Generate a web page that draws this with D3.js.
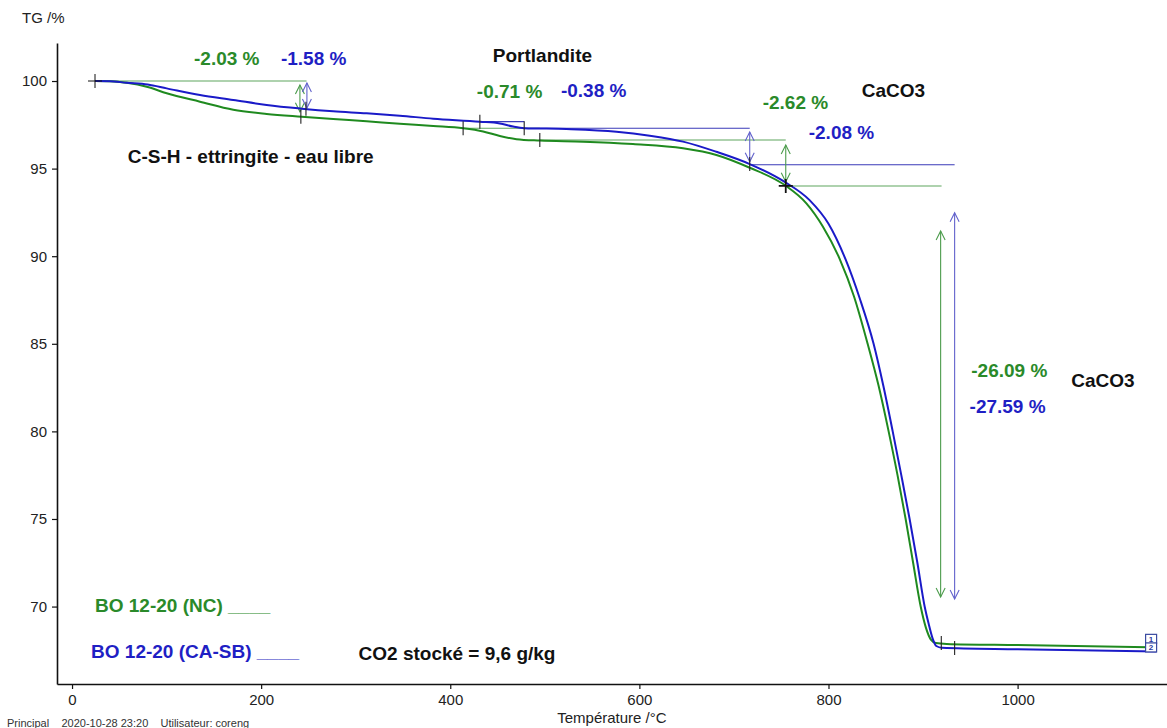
<!DOCTYPE html>
<html><head><meta charset="utf-8">
<script src="https://cdn.jsdelivr.net/npm/d3@7"></script>
<style>
body{margin:0;background:#fff;}
svg{display:block;font-family:"Liberation Sans",Arial,Helvetica,sans-serif;}
</style></head><body>
<svg id="c" width="1167" height="728"></svg>
<script>
// ---- data (temperature °C, TG %) ----
const greenTG = [[24.3,100],[40,99.99],[57.8,99.9],[80,99.66],[100.1,99.3],[135.3,98.82],[170.5,98.36],[205.8,98.12],[242.8,97.96],[276.2,97.83],[311.5,97.7],[346.7,97.56],[382,97.43],[413.6,97.3],[434.8,97.12],[452.4,96.86],[470,96.68],[494.7,96.6],[540.5,96.54],[593.3,96.4],[646.2,96.16],[681.4,95.78],[716.7,95.05],[754.8,94.02],[776.6,93.02],[794,91.7],[811.8,89.85],[827,87.7],[841.4,85.0],[853,82.6],[863.6,80.0],[873,77.5],[881.6,75.0],[889.5,72.5],[897.5,70.0],[903,68.8],[908.5,68.1],[913.5,67.92],[925,67.87],[1000,67.8],[1139.5,67.68]];
const blueTG = [[24.3,100],[40,99.99],[57.8,99.9],[80,99.8],[100.1,99.58],[135.3,99.2],[170.5,98.92],[205.8,98.63],[242.8,98.42],[276.2,98.27],[311.5,98.16],[346.7,98.02],[382,97.85],[431.3,97.68],[452.4,97.58],[466.5,97.4],[478.2,97.31],[522.9,97.26],[575.8,97.11],[611,96.88],[646.2,96.54],[681.4,95.96],[716.7,95.26],[753.7,94.24],[780,93.2],[800,91.85],[818.2,89.8],[833,87.6],[847.7,85.0],[858,82.6],[867.9,80.0],[877,77.5],[885.8,75.0],[894,72.5],[901.7,70.0],[906,69.0],[910,68.2],[914,67.75],[920,67.65],[1000,67.56],[1147,67.43]];
const xTicks = [0,200,400,600,800,1000];
const xMinor = [100,300,500,700,900,1100];
const yTicks = [70,75,80,85,90,95,100];
const yMinor = d3.range(66,103,1);
// reference lines: [series, T start, T end, TG]
const refLines = [["g",24.3,248,100],["b",431.3,478.2,97.68],["g",413.6,494.7,97.3],["b",478.2,716.7,97.3],["b",716.7,933.4,95.22],["g",494.7,754.8,96.63],["g",754.8,919.6,94.01]];
// double arrows: [series, T, TG top tip, TG bottom tip]
const arrows = [["g",241,99.77,98.25],["b",248.4,99.89,98.46],["b",716.7,97.09,95.39],["g",754.8,96.35,94.25],["g",918.6,91.44,70.55],["b",933.4,92.48,70.43]];
// step limit ticks: [T, TG]
const stepTicks = [[242,97.96],[247.4,98.42],[413.6,97.3],[431.3,97.68],[478.2,97.3],[494.7,96.63],[716.7,95.26],[919.3,67.92],[933.4,67.64]];
const crosses = [[24.3,100,1],[754.8,94.01,1.8]];
// labels: [text, series, T, TG]
const labels = [["-2.03 %","g",129,100.94],["-1.58 %","b",220.9,100.94],["Portlandite","k",445,101.1],["-0.71 %","g",428.1,99.01],["-0.38 %","b",517,99.06],["-2.62 %","g",730.4,98.38],["CaCO3","k",835.1,99.09],["-2.08 %","b",779.1,96.67],["C-S-H - ettringite - eau libre","k",58.9,95.3],["-26.09 %","g",951,83.12],["CaCO3","k",1056.8,82.55],["-27.59 %","b",949.2,81.03],["BO 12-20 (NC) ____","g",24.3,69.71],["BO 12-20 (CA-SB) ____","b",20.1,67.05],["CO2 stocké = 9,6 g/kg","k",303,66.95]];
// curve end markers: [label, T right edge, TG bottom edge]
const endBoxes = [["1",1147,67.9],["2",1147,67.41]];

// ---- styles ----
const curveCol = {g:"#1f8a1f", b:"#1a1ac8"};
const textCol = {g:"#2a8a2a", b:"#1f1fc4", k:"#111"};
const refCol = {g:"#5fa65f", b:"#3a3ab8"};
const arrowCol = {g:"#4c9c4c", b:"#6262cc"};

const svg = d3.select("#c");
const x = d3.scaleLinear().domain([-15.9,1158]).range([57,1167]);
const y = d3.scaleLinear().domain([65.58,102.17]).range([684,43]);

// axes
const gy = svg.append("g").attr("transform","translate(57,0)");
gy.call(d3.axisLeft(y).tickValues(yMinor).tickSize(3).tickSizeOuter(0).tickFormat(""));
gy.call(d3.axisLeft(y).tickValues(yTicks).tickSize(5).tickSizeOuter(0).tickFormat(d3.format("d")).tickPadding(5));
const gx = svg.append("g").attr("transform","translate(0,684)");
gx.call(d3.axisBottom(x).tickValues(xMinor).tickSize(3).tickSizeOuter(0).tickFormat(""));
gx.call(d3.axisBottom(x).tickValues(xTicks).tickSize(5).tickSizeOuter(0).tickFormat(d3.format("d")).tickPadding(5));
svg.selectAll(".domain").attr("stroke","#111").attr("stroke-width",1.6);
svg.selectAll(".tick line").attr("stroke","#111").attr("stroke-width",1.2);
svg.selectAll(".tick text").attr("font-size",15).attr("fill","#222").attr("font-family","Liberation Sans, Arial, sans-serif");

svg.append("text").attr("x",22).attr("y",23).attr("font-size",15).attr("fill","#222").text("TG /%");
svg.append("text").attr("x",x(571)).attr("y",723).attr("text-anchor","middle").attr("font-size",15).attr("fill","#222").text("Température /°C");
svg.append("text").attr("x",7).attr("y",727).attr("font-size",11).attr("fill","#333").attr("xml:space","preserve").text("Principal    2020-10-28 23:20    Utilisateur: coreng");

// reference lines
svg.append("g").selectAll("line").data(refLines).join("line")
  .attr("x1",d=>x(d[1])).attr("x2",d=>x(d[2])).attr("y1",d=>y(d[3])).attr("y2",d=>y(d[3]))
  .attr("stroke",d=>refCol[d[0]]).attr("stroke-width",1.1);

// arrows
const ag = svg.append("g").attr("fill","none").attr("stroke-width",1.1);
arrows.forEach(a=>{
  const xx = x(a[1]), y1 = y(a[2]), y2 = y(a[3]);
  const c = arrowCol[a[0]];
  ag.append("line").attr("x1",xx).attr("x2",xx).attr("y1",y1).attr("y2",y2).attr("stroke",c);
  ag.append("path").attr("d",`M${xx-4.5},${y1+9}L${xx},${y1}L${xx+4.5},${y1+9}`).attr("stroke",c);
  ag.append("path").attr("d",`M${xx-4.5},${y2-9}L${xx},${y2}L${xx+4.5},${y2-9}`).attr("stroke",c);
});

// curves
const line = d3.line().x(d=>x(d[0])).y(d=>y(d[1])).curve(d3.curveMonotoneX);
svg.append("path").datum(greenTG).attr("d",line).attr("fill","none").attr("stroke",curveCol.g).attr("stroke-width",2);
svg.append("path").datum(blueTG).attr("d",line).attr("fill","none").attr("stroke",curveCol.b).attr("stroke-width",2);

// step ticks and crosses
svg.append("g").selectAll("line").data(stepTicks).join("line")
  .attr("x1",d=>x(d[0])).attr("x2",d=>x(d[0])).attr("y1",d=>y(d[1])-7).attr("y2",d=>y(d[1])+7)
  .attr("stroke","#222").attr("stroke-width",1.1);
crosses.forEach(c=>{
  const cx = x(c[0]), cy = y(c[1]);
  svg.append("path").attr("d",`M${cx-7},${cy}H${cx+7}M${cx},${cy-7}V${cy+7}`).attr("stroke","#111").attr("stroke-width",c[2]).attr("fill","none");
});

// end boxes
endBoxes.forEach(b=>{
  const bx = x(b[1]), by = y(b[2]);
  svg.append("rect").attr("x",bx-11).attr("y",by-9).attr("width",11).attr("height",9).attr("fill","#fff").attr("stroke","#3a4aa0").attr("stroke-width",1.2);
  svg.append("text").attr("x",bx-5.5).attr("y",by-1.8).attr("text-anchor","middle").attr("font-size",8).attr("font-weight","bold").attr("fill","#2a3aa0").text(b[0]);
});

// labels
svg.append("g").selectAll("text").data(labels).join("text")
  .attr("x",d=>x(d[2])).attr("y",d=>y(d[3])).attr("font-size",19).attr("font-weight","bold")
  .attr("fill",d=>textCol[d[1]]).text(d=>d[0]);
</script>
</body></html>
